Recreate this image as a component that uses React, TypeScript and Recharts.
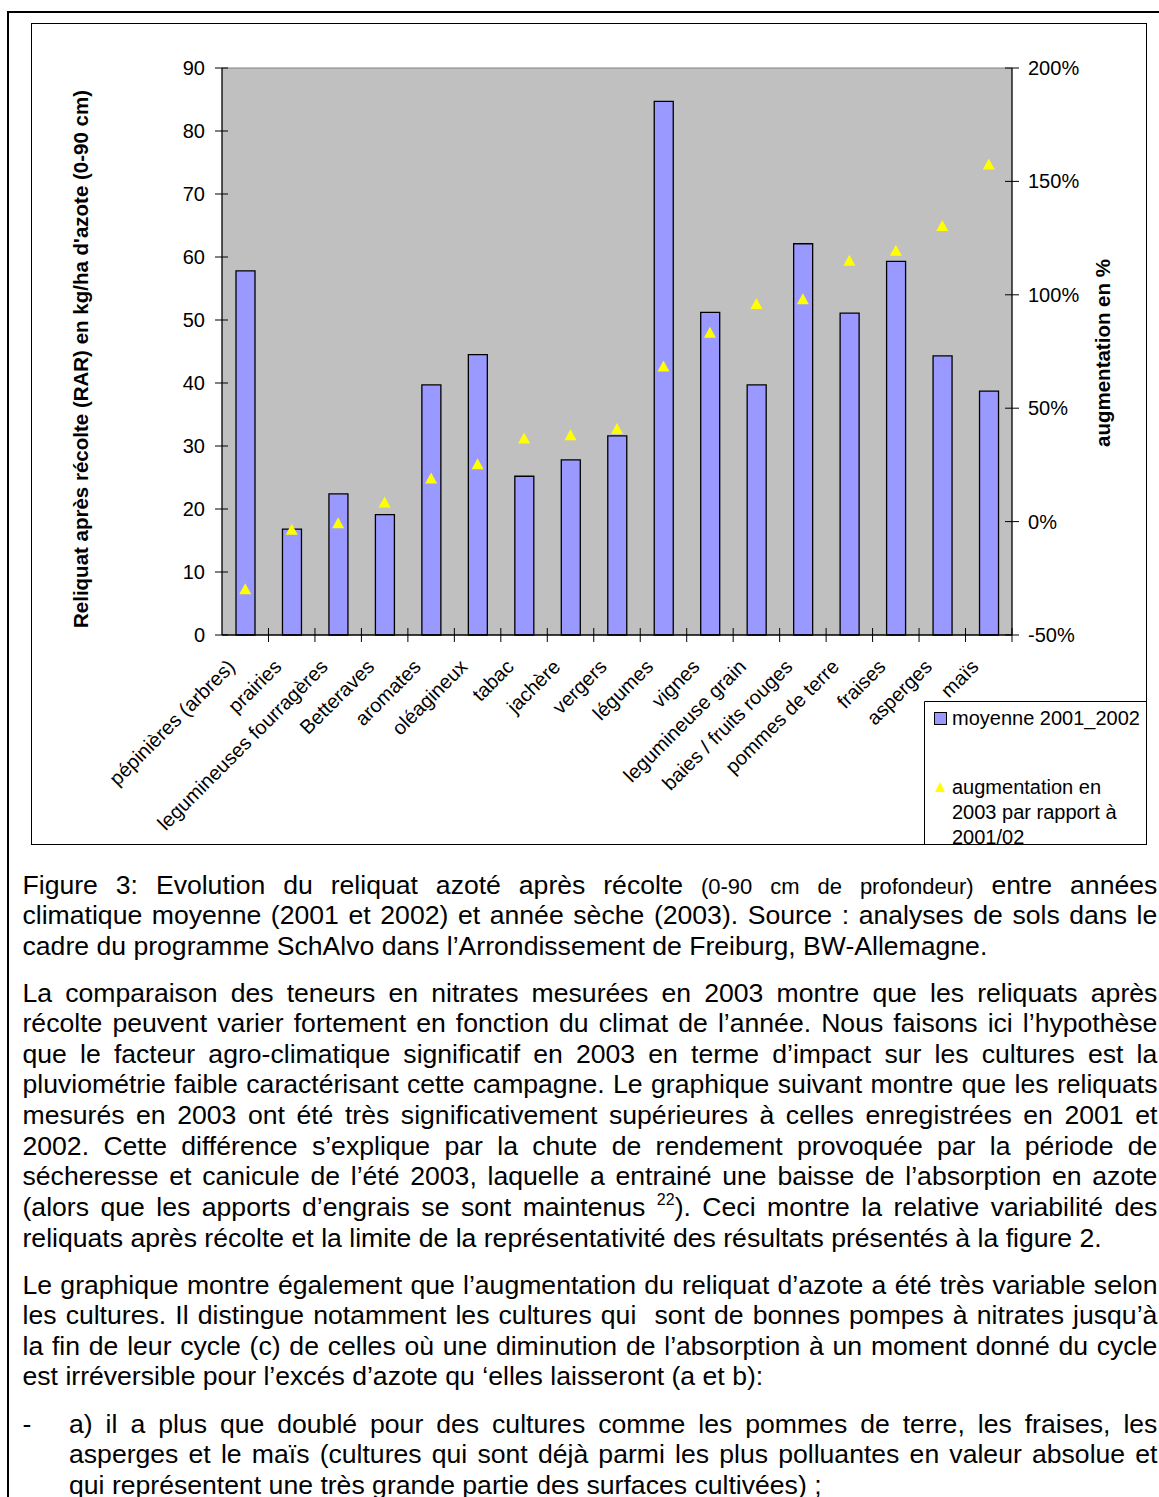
import React from "react";
import {
  ComposedChart,
  Bar,
  Line,
  XAxis,
  YAxis,
  CartesianGrid,
  Legend,
  ReferenceLine,
} from "recharts";

// crops (x axis)
const cultures = [
  "pépinières (arbres)",
  "prairies",
  "legumineuses fourragères",
  "Betteraves",
  "aromates",
  "oléagineux",
  "tabac",
  "jachère",
  "vergers",
  "légumes",
  "vignes",
  "legumineuse grain",
  "baies / fruits rouges",
  "pommes de terre",
  "fraises",
  "asperges",
  "maïs",
];

// RAR 2001-2002 average, kg/ha N (left axis)
const moyenne20012002 = [
  57.8, 16.8, 22.4, 19.1, 39.7, 44.5, 25.2, 27.8, 31.6, 84.7, 51.2, 39.7, 62.1,
  51.1, 59.3, 44.3, 38.7,
];

// increase in 2003 vs 2001/02, % (right axis)
const augmentation2003 = [
  -29.6, -3.4, -0.5, 8.6, 19.2, 25.5, 36.9, 38.3, 41.1, 68.6, 83.5, 96.2, 98.3,
  115.2, 119.6, 130.6, 157.7,
];

const leftTicks = [0, 10, 20, 30, 40, 50, 60, 70, 80, 90];
const rightTicks = [-50, 0, 50, 100, 150, 200];

const data = cultures.map((culture, i) => ({
  culture,
  moyenne: moyenne20012002[i],
  augmentation: augmentation2003[i],
}));

const FONT = "'Liberation Sans', Arial, sans-serif";
const CHART_W = 1116;
const CHART_H = 822;
const LEFT_AXIS_W = 191;
const RIGHT_AXIS_W = 135;
const PLOT_W = CHART_W - LEFT_AXIS_W - RIGHT_AXIS_W;
const BAND = PLOT_W / cultures.length;

const LeftTick = (props: any) => {
  const { x, y, payload } = props;
  return (
    <g>
      <line x1={x - 7} x2={x + 6} y1={y} y2={y} stroke="#000" />
      <text x={x - 17} y={y} dy="0.35em" textAnchor="end" fontSize={20} fontFamily={FONT} fill="#000">
        {payload.value}
      </text>
    </g>
  );
};

const RightTick = (props: any) => {
  const { x, y, payload } = props;
  return (
    <g>
      <line x1={x - 7} x2={x + 7} y1={y} y2={y} stroke="#000" />
      <text x={x + 16} y={y} dy="0.35em" textAnchor="start" fontSize={20} fontFamily={FONT} fill="#000">
        {payload.value}%
      </text>
    </g>
  );
};

const CategoryTick = (props: any) => {
  const { x, y, payload } = props;
  const lx = x - 9;
  const ly = y + 33;
  return (
    <g>
      <line x1={x + BAND / 2} x2={x + BAND / 2} y1={y - 7} y2={y + 7} stroke="#000" />
      <text
        x={lx}
        y={ly}
        textAnchor="end"
        transform={`rotate(-45, ${lx}, ${ly})`}
        fontSize={20}
        fontFamily={FONT}
        fill="#000"
      >
        {payload.value}
      </text>
    </g>
  );
};

const TriangleDot = (props: any) => {
  const { cx, cy } = props;
  if (cx == null || cy == null) return null;
  return (
    <path
      d={`M${cx},${cy - 5.5} L${cx + 6},${cy + 5.5} L${cx - 6},${cy + 5.5} Z`}
      fill="#FFFF00"
      stroke="none"
    />
  );
};

const renderLegend = () => (
  <svg width={223} height={143} style={{ display: "block", fontFamily: FONT }}>
    <path d="M0.5,143 V0.5 H222.5 V143" fill="none" stroke="#000" />
    <rect x={10.5} y={11.5} width={12} height={12} fill="#9999FF" stroke="#000" />
    <text x={28} y={16.5} dy="0.35em" fontSize={20} fill="#000">
      moyenne 2001_2002
    </text>
    <path d="M16,81 L21,91 L11,91 Z" fill="#FFFF00" />
    <text x={28} y={86} dy="0.35em" fontSize={20} fill="#000">
      augmentation en
    </text>
    <text x={28} y={111} dy="0.35em" fontSize={20} fill="#000">
      2003 par rapport à
    </text>
    <text x={28} y={136} dy="0.35em" fontSize={20} fill="#000">
      2001/02
    </text>
  </svg>
);

const NitrateChart = () => (
  <ComposedChart
    width={CHART_W}
    height={CHART_H}
    data={data}
    margin={{ top: 45, right: 0, bottom: 0, left: 0 }}
    style={{ fontFamily: FONT }}
  >
    <CartesianGrid yAxisId="left" fill="#C0C0C0" horizontal={false} vertical={false} />
    <XAxis
      dataKey="culture"
      height={210}
      interval={0}
      tickSize={0}
      tickMargin={0}
      tick={<CategoryTick />}
      axisLine={{ stroke: "#000", strokeWidth: 1.3 }}
    />
    <YAxis
      yAxisId="left"
      width={LEFT_AXIS_W}
      domain={[0, 90]}
      ticks={leftTicks}
      interval={0}
      tickSize={0}
      tickMargin={0}
      tick={<LeftTick />}
      axisLine={{ stroke: "#000", strokeWidth: 1.3 }}
      label={{
        content: () => (
          <text
            x={49}
            y={336}
            transform="rotate(-90, 49, 336)"
            textAnchor="middle"
            dominantBaseline="central"
            fontSize={20.5}
            fontWeight="bold"
            fontFamily={FONT}
            fill="#000"
          >
            Reliquat après récolte (RAR) en kg/ha d'azote (0-90 cm)
          </text>
        ),
      }}
    />
    <YAxis
      yAxisId="right"
      orientation="right"
      width={RIGHT_AXIS_W}
      domain={[-50, 200]}
      ticks={rightTicks}
      interval={0}
      tickSize={0}
      tickMargin={0}
      tick={<RightTick />}
      axisLine={{ stroke: "#000", strokeWidth: 1.3 }}
      label={{
        content: () => (
          <text
            x={1071}
            y={330}
            transform="rotate(-90, 1071, 330)"
            textAnchor="middle"
            dominantBaseline="central"
            fontSize={20.5}
            fontWeight="bold"
            fontFamily={FONT}
            fill="#000"
          >
            augmentation en %
          </text>
        ),
      }}
    />
    <ReferenceLine yAxisId="left" y={90} stroke="#808080" />
    <Legend
      layout="vertical"
      align="center"
      verticalAlign="middle"
      content={renderLegend}
      wrapperStyle={{ position: "absolute", left: 893, top: 678, width: 223, height: 143, overflow: "hidden" }}
    />
    <Bar
      yAxisId="left"
      dataKey="moyenne"
      name="moyenne 2001_2002"
      barSize={19}
      fill="#9999FF"
      stroke="#000"
      strokeWidth={1.3}
      isAnimationActive={false}
    />
    <Line
      yAxisId="right"
      dataKey="augmentation"
      name="augmentation en 2003 par rapport à 2001/02"
      stroke="none"
      dot={<TriangleDot />}
      activeDot={false}
      isAnimationActive={false}
    />
  </ComposedChart>
);

// body text below the figure
const TEXT_LEFT = 22.5;
const TEXT_RIGHT = 1157.5;
const LINE_STEP = 30.65;

const paragraph2 = [
  "La comparaison des teneurs en nitrates mesurées en 2003 montre que les reliquats après",
  "récolte peuvent varier fortement en fonction du climat de l’année. Nous faisons ici l’hypothèse",
  "que le facteur agro-climatique significatif en 2003 en terme d’impact sur les cultures est la",
  "pluviométrie faible caractérisant cette campagne. Le graphique suivant montre que les reliquats",
  "mesurés en 2003 ont été très significativement supérieures à celles enregistrées en 2001 et",
  "2002. Cette différence s’explique par la chute de rendement provoquée par la période de",
  "sécheresse et canicule de l’été 2003, laquelle a entrainé une baisse de l’absorption en azote",
  "(alors que les apports d’engrais se sont maintenus ^22). Ceci montre la relative variabilité des",
  "reliquats après récolte et la limite de la représentativité des résultats présentés à la figure 2.",
];

const paragraph3 = [
  "Le graphique montre également que l’augmentation du reliquat d’azote a été très variable selon",
  "les cultures. Il distingue notamment les cultures qui  sont de bonnes pompes à nitrates jusqu’à",
  "la fin de leur cycle (c) de celles où une diminution de l’absorption à un moment donné du cycle",
  "est irréversible pour l’excés d’azote qu ‘elles laisseront (a et b):",
];

const listItemA = [
  "a) il a plus que doublé pour des cultures comme les pommes de terre, les fraises, les",
  "asperges et le maïs (cultures qui sont déjà parmi les plus polluantes en valeur absolue et",
  "qui représentent une très grande partie des surfaces cultivées) ;",
];

const renderWord = (w: string, k: number) => {
  if (w.startsWith("^22")) {
    return (
      <span key={k}>
        <span style={{ fontSize: 16, position: "relative", top: -11 }}>22</span>
        {w.slice(3)}
      </span>
    );
  }
  if (w.startsWith("~")) {
    return (
      <span key={k} style={{ fontSize: 22 }}>
        {w.slice(1)}
      </span>
    );
  }
  return <span key={k}>{w}</span>;
};

const TextLine = ({
  text,
  center,
  left = TEXT_LEFT,
  justify = true,
}: {
  text: string;
  center: number;
  left?: number;
  justify?: boolean;
}) => {
  const words = text.split(" ");
  const base: React.CSSProperties = {
    position: "absolute",
    left,
    top: center - 16.5,
    width: TEXT_RIGHT - left,
    fontSize: 26.6,
    lineHeight: "30.6px",
    fontFamily: FONT,
    color: "#000",
    whiteSpace: "pre",
  };
  if (!justify) {
    return <div style={base}>{words.map((w, i) => (i ? [" ", renderWord(w, i)] : renderWord(w, i)))}</div>;
  }
  return (
    <div style={{ ...base, display: "flex", justifyContent: "space-between", alignItems: "baseline" }}>
      {words.map(renderWord)}
    </div>
  );
};

const Paragraph = ({ lines, start, left }: { lines: string[]; start: number; left?: number }) => (
  <>
    {lines.map((l, i) => (
      <TextLine key={i} text={l} center={start + i * LINE_STEP} left={left} justify={i < lines.length - 1} />
    ))}
  </>
);

const App = () => (
  <div style={{ position: "relative", width: 1159, height: 1497, overflow: "hidden", background: "#fff" }}>
    <style>{"body{margin:0;overflow:hidden}"}</style>
    <div
      style={{
        position: "absolute",
        left: 7,
        top: 11,
        width: 1300,
        height: 1700,
        border: "2px solid #000",
      }}
    />
    <div
      style={{
        position: "absolute",
        left: 31,
        top: 23,
        width: CHART_W,
        height: CHART_H,
        border: "1px solid #000",
        boxSizing: "border-box",
      }}
    />
    <div style={{ position: "absolute", left: 31, top: 23 }}>
      <NitrateChart />
    </div>

    <Paragraph
      start={886}
      lines={[
        "Figure 3: Evolution du reliquat azoté après récolte ~(0-90 ~cm ~de ~profondeur) entre années",
        "climatique moyenne (2001 et 2002) et année sèche (2003). Source : analyses de sols dans le",
        "cadre du programme SchAlvo dans l’Arrondissement de Freiburg, BW-Allemagne.",
      ]}
    />
    <Paragraph start={994} lines={paragraph2} />
    <Paragraph start={1286} lines={paragraph3} />
    <div
      style={{
        position: "absolute",
        left: TEXT_LEFT,
        top: 1425 - 16.5,
        fontSize: 26.6,
        lineHeight: "30.6px",
        fontFamily: FONT,
      }}
    >
      -
    </div>
    <Paragraph start={1425} lines={listItemA} left={69} />
  </div>
);

export default App;
